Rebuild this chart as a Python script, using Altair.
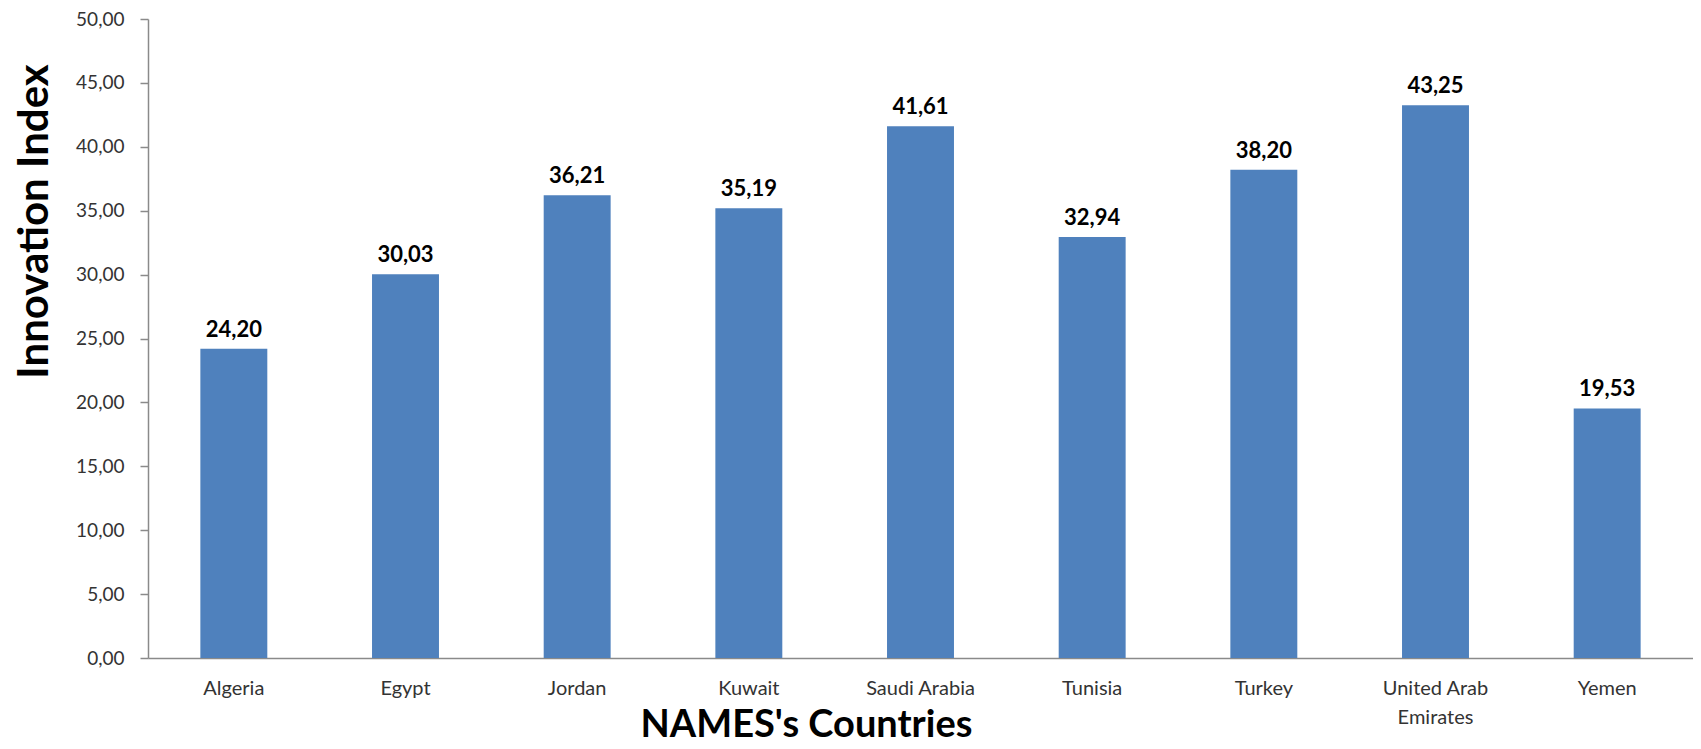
import altair as alt
import pandas as pd

countries = ["Algeria", "Egypt", "Jordan", "Kuwait", "Saudi Arabia", "Tunisia",
             "Turkey", "United Arab Emirates", "Yemen"]
values = [24.20, 30.03, 36.21, 35.19, 41.61, 32.94, 38.20, 43.25, 19.53]
y_ticks = [0, 5, 10, 15, 20, 25, 30, 35, 40, 45, 50]

df = pd.DataFrame({"country": countries, "value": values})
df["label"] = [f"{v:.2f}".replace(".", ",") for v in values]

FONT = "Lato"

x_enc = alt.X(
    "country:N",
    sort=countries,
    scale=alt.Scale(paddingInner=0.61, paddingOuter=0.305),
    axis=alt.Axis(
        title="NAMES's Countries",
        titleFont=FONT, titleFontSize=38, titleFontWeight="bold", titleColor="#000000",
        titleX=658, titleY=78, titleAlign="center", titleBaseline="alphabetic",
        labelAngle=0, labelFont=FONT, labelFontSize=20, labelColor="#333333",
        labelPadding=20, labelLineHeight=29,
        labelExpr="datum.label == 'United Arab Emirates' ? ['United Arab', 'Emirates'] : datum.label",
        ticks=False, domainColor="#8a8a8a", domainWidth=1.5,
    ),
)

y_enc = alt.Y(
    "value:Q",
    scale=alt.Scale(domain=[0, 50], nice=False),
    axis=alt.Axis(
        title="Innovation Index",
        titleFont=FONT, titleFontSize=42, titleFontWeight="bold", titleColor="#000000",
        titleAngle=270, titleX=-101, titleY=202, titleAlign="center",
        titleBaseline="alphabetic",
        values=y_ticks,
        labelExpr="replace(format(datum.value, '.2f'), '.', ',')",
        labelFont=FONT, labelFontSize=19, labelColor="#333333", labelPadding=16,
        tickSize=8, tickColor="#8a8a8a", tickWidth=1.5,
        domainColor="#8a8a8a", domainWidth=1.5, grid=False,
    ),
)

bars = alt.Chart(df).mark_bar(color="#4F81BD").encode(x=x_enc, y=y_enc)

text = alt.Chart(df).mark_text(
    font=FONT, fontSize=22, fontWeight="bold", color="#000000",
    baseline="alphabetic", dy=-12,
).encode(x=alt.X("country:N", sort=countries), y="value:Q", text="label:N")

chart = (
    alt.layer(bars, text)
    .properties(
        width=1545, height=639,
        autosize=alt.AutoSizeParams(type="none"),
        padding={"left": 140, "top": 11, "right": 0, "bottom": 91},
        background="white",
    )
    .configure_view(stroke=None)
)

chart.save("out.html", embed_options={"renderer": "svg", "actions": False})
